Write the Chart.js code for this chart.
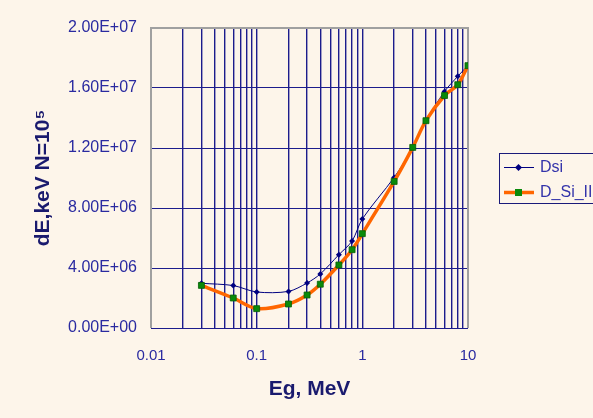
<!DOCTYPE html>
<html>
<head>
<meta charset="utf-8">
<script src="https://cdn.jsdelivr.net/npm/chart.js@4/dist/chart.umd.min.js"></script>
<style>
  html, body { margin: 0; padding: 0; }
  body { width: 593px; height: 418px; overflow: hidden; background: #fdf5ea; position: relative;
         font-family: "Liberation Sans", Arial, sans-serif; }
  #c { position: absolute; left: 0; top: 0; }
  #legend { position: absolute; left: 499px; top: 153px; width: 120px; height: 51px;
            border: 1px solid #1a1a7a; box-sizing: border-box; }
  .item { position: absolute; left: 4px; height: 20px; }
  .item canvas { position: absolute; left: 0; top: 0; }
  .item span { position: absolute; left: 36px; top: 1px; font-size: 16px; color: #3333aa; white-space: nowrap; }
</style>
</head>
<body>
<canvas id="c" width="593" height="418"></canvas>
<div id="legend"></div>
<script>
// ---- data ----
const energies = [0.03, 0.06, 0.1, 0.2, 0.3, 0.4, 0.6, 0.8, 1, 2, 3, 4, 6, 8, 10];
const dsi      = [2.98e6, 2.83e6, 2.40e6, 2.44e6, 3.00e6, 3.60e6, 4.89e6, 5.80e6, 7.27e6, 10.04e6, 12.02e6, 13.82e6, 15.77e6, 16.78e6, 17.5e6];
const dSiII    = [2.84e6, 2.00e6, 1.29e6, 1.60e6, 2.20e6, 2.92e6, 4.20e6, 5.22e6, 6.29e6, 9.77e6, 12.04e6, 13.82e6, 15.50e6, 16.22e6, 17.49e6];
const seriesNames = ['Dsi', 'D_Si_II'];

const xTickValues = [0.01, 0.1, 1, 10];
const xTickLabels = ['0.01', '0.1', '1', '10'];
const xMinorSteps = [2, 3, 4, 5, 6, 7, 8, 9];
const yTickValues = [0, 4e6, 8e6, 1.2e7, 1.6e7, 2e7];
const yTickLabels = ['0.00E+00', '4.00E+06', '8.00E+06', '1.20E+07', '1.60E+07', '2.00E+07'];

const xTitle = 'Eg, MeV';
const yTitle = 'dE,keV N=10\u2075';

const NAVY = '#000080';
const ORANGE = '#ff6600';
const GREEN = '#0a8a0a';
const GRID = '#1c1c8c';
const FRAME = '#a0a0a0';

const framePlugin = {
  id: 'frame',
  beforeDatasetsDraw(chart) {
    const { ctx, chartArea: a } = chart;
    ctx.save();
    ctx.strokeStyle = FRAME;
    ctx.lineWidth = 2;
    ctx.beginPath();
    ctx.moveTo(a.left, a.bottom);
    ctx.lineTo(a.left, a.top);
    ctx.lineTo(a.right, a.top);
    ctx.lineTo(a.right, a.bottom);
    ctx.stroke();
    ctx.strokeStyle = GRID;
    ctx.lineWidth = 1;
    ctx.beginPath();
    ctx.moveTo(a.left, a.bottom + 0.5);
    ctx.lineTo(a.right, a.bottom + 0.5);
    ctx.stroke();
    ctx.restore();
  }
};

const chart = new Chart(document.getElementById('c'), {
  type: 'line',
  data: {
    datasets: [
      {
        label: seriesNames[0],
        data: energies.map((e, i) => ({ x: e, y: dsi[i] })),
        borderColor: NAVY,
        borderWidth: 1,
        backgroundColor: NAVY,
        pointStyle: 'rectRot',
        pointRadius: 3,
        pointBorderWidth: 0,
        tension: 0.3,
        order: 1
      },
      {
        label: seriesNames[1],
        data: energies.map((e, i) => ({ x: e, y: dSiII[i] })),
        borderColor: ORANGE,
        borderWidth: 3.5,
        backgroundColor: GREEN,
        pointStyle: 'rect',
        pointRadius: 4.2,
        pointBorderWidth: 0.8,
        pointBorderColor: '#056005',
        tension: 0.3,
        order: 0
      }
    ]
  },
  options: {
    responsive: false,
    animation: false,
    devicePixelRatio: 1,
    layout: { padding: { left: 0, top: 28, right: 125, bottom: 0 } },
    plugins: { legend: { display: false }, tooltip: { enabled: false } },
    scales: {
      x: {
        type: 'logarithmic',
        min: 0.01,
        max: 10,
        afterFit(s) { s.height = 90; },
        afterBuildTicks(s) {
          const t = [];
          xTickValues.forEach((v, i) => {
            t.push({ value: v, major: true });
            if (i < xTickValues.length - 1) xMinorSteps.forEach(m => t.push({ value: v * m }));
          });
          s.ticks = t;
        },
        grid: { color: GRID, lineWidth: 1.4, drawTicks: false },
        border: { display: false },
        ticks: {
          autoSkip: false,
          maxRotation: 0,
          padding: 19,
          color: '#2a2aa0',
          font: { family: '"Liberation Sans", Arial, sans-serif', size: 15 },
          callback(v) {
            const i = xTickValues.findIndex(t => Math.abs(t - v) < 1e-9);
            return i >= 0 ? xTickLabels[i] : '';
          }
        },
        title: {
          display: true,
          text: xTitle,
          color: '#1a1a6e',
          font: { family: '"Liberation Sans", Arial, sans-serif', size: 21, weight: 'bold' },
          padding: { top: 0, bottom: 16 }
        }
      },
      y: {
        min: 0,
        max: 2e7,
        afterFit(s) { s.width = 151; },
        afterBuildTicks(s) { s.ticks = yTickValues.map(v => ({ value: v })); },
        grid: { color: GRID, lineWidth: 1, drawTicks: false },
        border: { display: false },
        ticks: {
          padding: 14,
          color: '#2a2aa0',
          font: { family: '"Liberation Sans", Arial, sans-serif', size: 16 },
          callback(v) {
            const i = yTickValues.indexOf(v);
            return i >= 0 ? yTickLabels[i] : '';
          }
        },
        title: {
          display: true,
          text: yTitle,
          color: '#1a1a6e',
          font: { family: '"Liberation Sans", Arial, sans-serif', size: 21, weight: 'bold' },
          padding: { top: 31, bottom: 0 }
        }
      }
    }
  },
  plugins: [framePlugin]
});

// ---- legend built from the chart's datasets ----
const legend = document.getElementById('legend');
chart.data.datasets.forEach((ds, i) => {
  const item = document.createElement('div');
  item.className = 'item';
  item.style.top = (3 + i * 25) + 'px';
  const cv = document.createElement('canvas');
  cv.width = 32; cv.height = 20;
  const g = cv.getContext('2d');
  g.strokeStyle = ds.borderColor;
  g.lineWidth = ds.borderWidth;
  g.beginPath(); g.moveTo(0, 10.5); g.lineTo(30, 10.5); g.stroke();
  g.fillStyle = ds.backgroundColor;
  if (ds.pointStyle === 'rect') {
    g.fillRect(11, 7, 7, 7);
  } else {
    g.beginPath(); g.moveTo(14.5, 7); g.lineTo(18, 10.5); g.lineTo(14.5, 14); g.lineTo(11, 10.5); g.closePath(); g.fill();
  }
  const sp = document.createElement('span');
  sp.textContent = ds.label;
  item.appendChild(cv); item.appendChild(sp);
  legend.appendChild(item);
});
</script>
</body>
</html>
